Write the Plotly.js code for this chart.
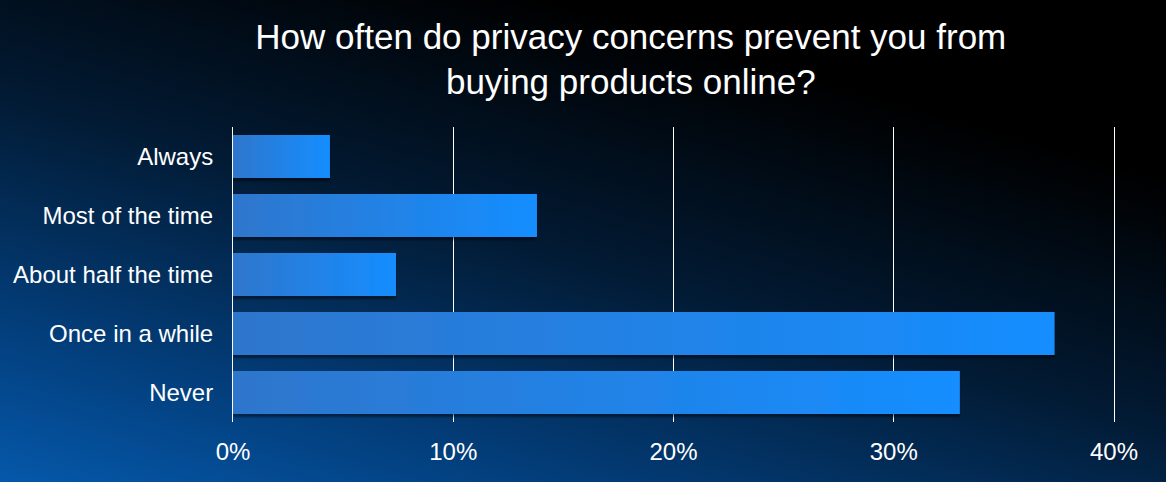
<!DOCTYPE html>
<html>
<head>
<meta charset="utf-8">
<script src="https://cdn.plot.ly/plotly-3.0.1.min.js"></script>
<style>
    html, body {
        margin: 0;
        padding: 0;
        width: 1166px;
        height: 482px;
        overflow: hidden;
    }
    body {
        background: linear-gradient(196deg, #000000 0%, #000000 22%, #021a33 52%, #03407f 82%, #0558aa 100%);
    }
    #chart {
        width: 1166px;
        height: 482px;
    }
</style>
</head>
<body>
<div id="chart"></div>
<script>
/*** DATA ***/
const answers = ["Always", "Most of the time", "About half the time", "Once in a while", "Never"];
const shares = [4.4, 13.8, 7.4, 37.3, 33.0];   // percent of respondents

const x_ticks = [0, 10, 20, 30, 40];
const x_tick_labels = ["0%", "10%", "20%", "30%", "40%"];

const chart_title = "How often do privacy concerns prevent you from<br>buying products online?";

/*** PLOT ***/
const font_family = '"Liberation Sans", Arial, Helvetica, sans-serif';

var trace = {
    type: 'bar',
    orientation: 'h',
    x: shares,
    y: answers,
    marker: {
        color: '#1f85ea',
        line: { width: 0 }
    },
    hoverinfo: 'none'
};

var layout = {
    width: 1166,
    height: 482,
    paper_bgcolor: 'rgba(0,0,0,0)',
    plot_bgcolor: 'rgba(0,0,0,0)',
    margin: { l: 233, r: 52, t: 127, b: 60 },
    showlegend: false,
    bargap: 0.27,
    font: { family: font_family, color: '#ffffff', size: 24 },
    title: {
        text: chart_title,
        x: 0.541,
        xanchor: 'center',
        y: 0.899,
        yanchor: 'top',
        font: { family: font_family, size: 35, color: '#ffffff' }
    },
    xaxis: {
        range: [0, 40],
        tickvals: x_ticks,
        ticktext: x_tick_labels,
        showgrid: true,
        gridcolor: '#ffffff',
        gridwidth: 1,
        zeroline: false,
        showline: false,
        ticks: 'outside',
        ticklen: 8,
        tickcolor: 'rgba(0,0,0,0)',
        tickfont: { size: 24, color: '#ffffff' },
        fixedrange: true
    },
    yaxis: {
        type: 'category',
        categoryorder: 'array',
        categoryarray: answers,
        autorange: 'reversed',
        showgrid: false,
        zeroline: false,
        // left and right frame lines stand in for the 0% and 40% grid lines
        showline: true,
        mirror: true,
        linecolor: '#ffffff',
        linewidth: 1,
        ticks: 'outside',
        ticklen: 14,
        tickcolor: 'rgba(0,0,0,0)',
        tickfont: { size: 24, color: '#ffffff' },
        fixedrange: true
    }
};

// bars get a left-to-right gradient and a small shadow, which plotly can't do on its own
function paint_bars(gd) {
    var svg = gd.querySelector('svg.main-svg');
    var defs = svg.querySelector('defs');
    var ns = 'http://www.w3.org/2000/svg';

    var grad = document.createElementNS(ns, 'linearGradient');
    grad.setAttribute('id', 'barGrad');
    grad.setAttribute('x1', '0');
    grad.setAttribute('y1', '0');
    grad.setAttribute('x2', '1');
    grad.setAttribute('y2', '0');
    [['0%', '#2f76cc'], ['100%', '#158eff']].forEach(function (s) {
        var stop = document.createElementNS(ns, 'stop');
        stop.setAttribute('offset', s[0]);
        stop.setAttribute('stop-color', s[1]);
        grad.appendChild(stop);
    });
    defs.appendChild(grad);

    var filt = document.createElementNS(ns, 'filter');
    filt.setAttribute('id', 'barShadow');
    filt.setAttribute('x', '-5%');
    filt.setAttribute('y', '-10%');
    filt.setAttribute('width', '110%');
    filt.setAttribute('height', '130%');
    var shadow = document.createElementNS(ns, 'feDropShadow');
    shadow.setAttribute('dx', '0');
    shadow.setAttribute('dy', '3');
    shadow.setAttribute('stdDeviation', '0.8');
    shadow.setAttribute('flood-color', '#000000');
    shadow.setAttribute('flood-opacity', '0.45');
    filt.appendChild(shadow);
    defs.appendChild(filt);

    gd.querySelectorAll('.bars .point path').forEach(function (p) {
        p.style.setProperty('fill', 'url(#barGrad)');
        p.style.setProperty('fill-opacity', '1');
        p.setAttribute('filter', 'url(#barShadow)');
    });
}

Plotly.newPlot('chart', [trace], layout, { displayModeBar: false, staticPlot: true })
    .then(paint_bars);
</script>
</body>
</html>
